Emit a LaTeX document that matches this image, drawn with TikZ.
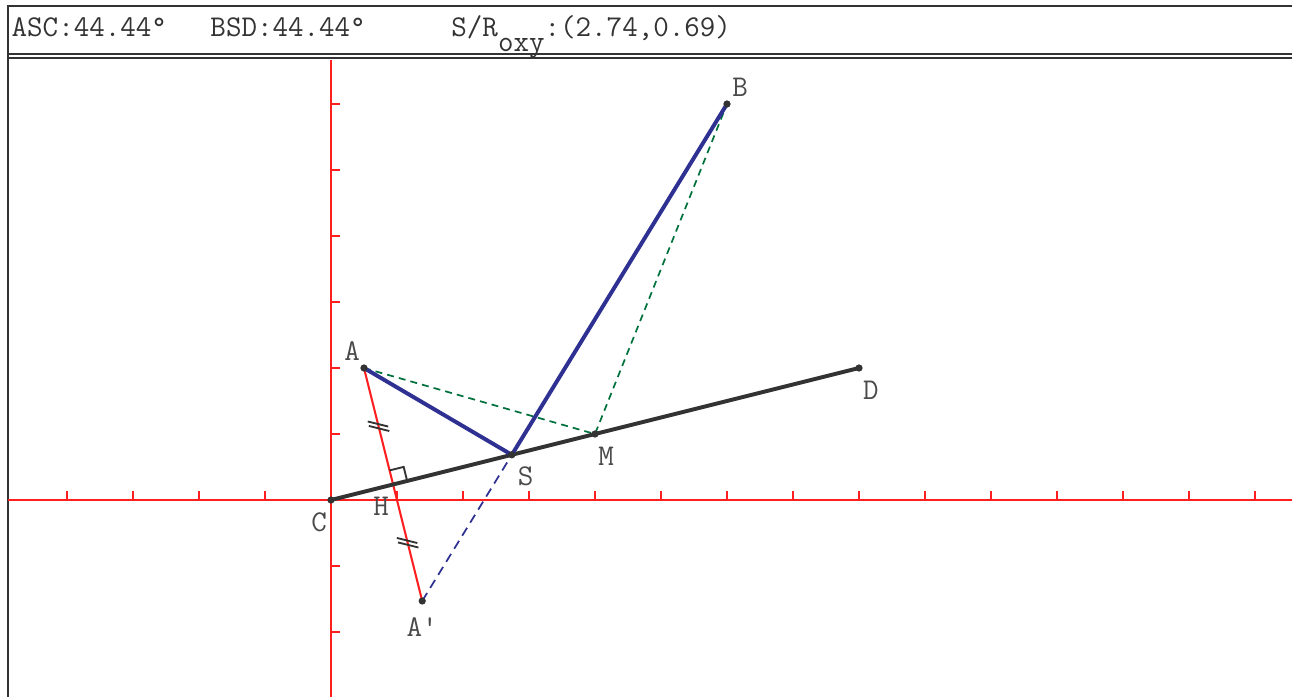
\documentclass[tikz,border=0pt]{standalone}
\usepackage{fontspec}
\usetikzlibrary{calc, positioning}

\definecolor{axisred}{HTML}{FF1F1F}
\definecolor{segblue}{HTML}{2E3192}
\definecolor{auxgreen}{HTML}{00703C}
\definecolor{darkline}{HTML}{333333}
\definecolor{labelgray}{HTML}{4A4A4A}

\begin{document}
\begin{tikzpicture}[
  font=\ttfamily\fontsize{13}{15}\selectfont,
  hdr/.style={text=darkline, inner sep=0pt, anchor=base west},
  lbl/.style={text=labelgray, inner sep=0pt},
  pt/.style={circle, fill=darkline, inner sep=0pt, minimum size=0.11cm},
  axis/.style={axisred, line width=0.85pt},
  segline/.style={segblue, line width=1.7pt},
  auxline/.style={auxgreen, line width=0.75pt, dash pattern=on 3pt off 2.2pt},
  tickmark/.style={darkline, line width=0.8pt}
]
\useasboundingbox (-5.015,-2.985) rectangle (14.561,7.576);

% Frame and header
\draw[darkline, line width=1.1pt] (-4.894,-2.985) -- (-4.894,7.485) -- (14.561,7.485);
\draw[darkline, line width=0.7pt] (-4.894,6.76) -- (14.561,6.76);
\draw[darkline, line width=0.7pt] (-4.894,6.697) -- (14.561,6.697);
\node[hdr] (asc) at (-4.845,7.03) {ASC:44.44°};
\node[hdr] (bsd) at (-1.833,7.03) {BSD:44.44°};
\node[hdr] (sr) at (1.818,7.03) {S/R\raisebox{-0.23cm}{oxy}:(2.74,0.69)};

% Axes
\draw[axis] (-4.894,0) -- (14.561,0);
\draw[axis] (0,6.67) -- (0,-2.985);
\foreach \x in {-4,...,-1,1,2,...,14}
  \draw[axis] (\x,0) -- (\x,0.14);
\foreach \y in {-2,-1,1,2,...,6}
  \draw[axis] (0,\y) -- (0.14,\y);

% Points
\coordinate (C) at (0,0);
\coordinate (D) at (8,2);
\coordinate (A) at (0.5,2);
\coordinate (B) at (6,6);
\coordinate (M) at (4,1);
\coordinate (S) at (2.74,0.685);
\coordinate (H) at ($(C)!(A)!(D)$);
\coordinate (Ap) at ($(A)!2!(H)$);

% Reflection of A
\draw[axisred, line width=0.9pt] (A) -- (Ap);

% Dashed paths
\draw[auxline] (A) -- (M) -- (B);
\draw[segblue, line width=0.75pt, dash pattern=on 4pt off 2.6pt] (Ap) -- (S);

% Line CD and path ASB
\draw[darkline, line width=1.7pt] (C) -- (D);
\draw[segline] (A) -- (S) -- (B);

% Right angle at H
\coordinate (h1) at ($(H)!0.22cm!(D)$);
\coordinate (h2) at ($(H)!0.22cm!(A)$);
\draw[tickmark] (h1) -- ($(h1)+(h2)-(H)$) -- (h2);

% Equal marks
\coordinate (m1) at ($(A)!0.5!(H)$);
\coordinate (m2) at ($(H)!0.5!(Ap)$);
\foreach \m in {m1,m2}
  \foreach \s in {-0.035,0.035}
    \draw[tickmark] ($(\m)+(-76:\s)+(166:0.16)$) -- ($(\m)+(-76:\s)+(-14:0.16)$);

% Dots
\node[pt] (dA) at (A) {};
\node[pt] (dB) at (B) {};
\node[pt] (dC) at (C) {};
\node[pt] (dD) at (D) {};
\node[pt] (dM) at (M) {};
\node[pt] (dS) at (S) {};
\node[pt] (dAp) at (Ap) {};

% Labels
\node[lbl] (lA) at ($(A)+(-0.18,0.26)$) {A};
\node[lbl] (lB) at ($(B)+(0.2,0.26)$) {B};
\node[lbl] (lC) at ($(C)+(-0.18,-0.33)$) {C};
\node[lbl] (lD) at ($(D)+(0.18,-0.33)$) {D};
\node[lbl] (lM) at ($(M)+(0.17,-0.33)$) {M};
\node[lbl] (lS) at ($(S)+(0.21,-0.33)$) {S};
\node[lbl] (lH) at ($(H)+(-0.18,-0.33)$) {H};
\node[lbl] (lAp) at ($(Ap)+(0,-0.39)$) {A\textquotesingle};

\end{tikzpicture}
\end{document}
